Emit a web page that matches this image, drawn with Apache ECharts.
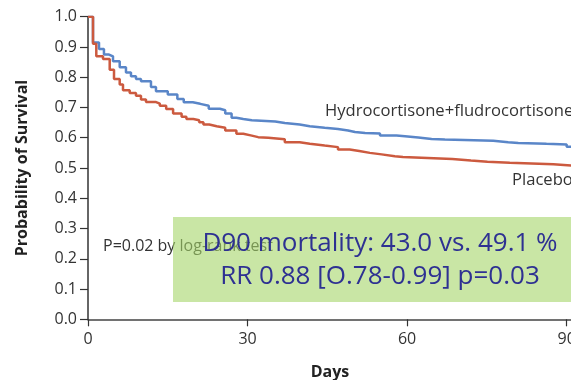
<!DOCTYPE html>
<html>
<head>
<meta charset="utf-8">
<script src="https://cdn.jsdelivr.net/npm/echarts@6/dist/echarts.min.js"></script>
<style>html,body{margin:0;padding:0;background:#fff;}#c{width:571px;height:380px;}</style>
</head>
<body>
<div id="c"></div>
<script>
// Kaplan-Meier steps: [day, survival]
const hydroDays = [0, 0.94, 2.07, 3.0, 3.95, 4.7, 5.96, 7.14, 8.08, 9.02, 9.96, 11.84, 12.78, 15.0, 16.8, 18.0, 19.7, 21.1, 22.7, 24.8, 25.8, 27.0, 27.9, 29.2, 30.8, 35.2, 37.0, 39.8, 41.7, 44.5, 47.0, 48.9, 50.2, 52.1, 54.9, 58.0, 59.6, 62.1, 64.6, 67.1, 76.2, 79.0, 80.9, 86.2, 90.0, 91];
const hydroSurv = [1.0, 0.915, 0.893, 0.875, 0.869, 0.853, 0.833, 0.816, 0.803, 0.794, 0.787, 0.768, 0.754, 0.743, 0.728, 0.717, 0.712, 0.706, 0.696, 0.691, 0.680, 0.666, 0.662, 0.658, 0.654, 0.649, 0.644, 0.638, 0.633, 0.629, 0.624, 0.619, 0.616, 0.614, 0.607, 0.605, 0.601, 0.596, 0.594, 0.590, 0.585, 0.583, 0.580, 0.578, 0.570, 0.570];
const placeboDays = [0, 0.94, 1.56, 2.82, 4.08, 4.89, 5.96, 6.58, 7.84, 9.02, 9.96, 10.9, 12.8, 13.5, 14.7, 16.0, 17.6, 18.5, 19.8, 20.9, 21.7, 22.8, 24.2, 25.8, 27.9, 29.2, 30.8, 32.0, 33.9, 37.0, 39.8, 41.7, 44.5, 47.0, 49.2, 51.0, 53.0, 55.2, 57.7, 59.2, 68.5, 72.0, 75.1, 79.3, 87.5, 91];
const placeboSurv = [1.0, 0.911, 0.869, 0.860, 0.825, 0.794, 0.776, 0.757, 0.748, 0.739, 0.726, 0.718, 0.713, 0.706, 0.695, 0.680, 0.669, 0.662, 0.658, 0.651, 0.644, 0.638, 0.633, 0.624, 0.613, 0.607, 0.602, 0.600, 0.595, 0.585, 0.580, 0.574, 0.569, 0.561, 0.556, 0.550, 0.545, 0.539, 0.536, 0.530, 0.525, 0.521, 0.517, 0.512, 0.508, 0.508];
const xTicks = [0, 30, 60, 90];
const seriesNames = ['Hydrocortisone+fludrocortisone', 'Placebo'];
const pText = 'P=0.02 by log-rank test';
const boxLines = ['D90 mortality: 43.0 vs. 49.1 %', 'RR 0.88 [O.78-0.99] p=0.03'];

const FONT = '"Open Sans", "Noto Sans", sans-serif';
const zip = (a, b) => a.map((d, i) => [d, b[i]]);

const chart = echarts.init(document.getElementById('c'), null, {renderer: 'canvas'});
chart.setOption({
  animation: false,
  backgroundColor: '#ffffff',
  grid: {left: 88, top: 16.7, width: 484, bottom: 60.7, containLabel: false, outerBoundsMode: 'none'},
  xAxis: {
    type: 'value', min: 0, max: 91,
    name: 'Days', nameLocation: 'middle', nameGap: 45,
    nameTextStyle: {fontFamily: FONT, fontSize: 16, fontWeight: 'bold', color: '#222'},
    axisLine: {lineStyle: {color: '#444', width: 1.5}},
    axisTick: {show: true, length: 7, lineStyle: {color: '#333', width: 1.2}, customValues: xTicks},
    axisLabel: {fontFamily: FONT, fontSize: 16, color: '#333', margin: 12, customValues: xTicks},
    splitLine: {show: false}
  },
  yAxis: {
    type: 'value', min: 0, max: 1, interval: 0.1,
    name: 'Probability of Survival', nameLocation: 'middle', nameGap: 58,
    nameTextStyle: {fontFamily: FONT, fontSize: 16, fontWeight: 'bold', color: '#222'},
    axisLine: {show: true, lineStyle: {color: '#333', width: 1.5}},
    axisTick: {show: true, length: 8, lineStyle: {color: '#333', width: 1.2}},
    axisLabel: {fontFamily: FONT, fontSize: 16, color: '#333', margin: 11, formatter: v => v.toFixed(1)},
    splitLine: {show: false}
  },
  series: [
    {name: seriesNames[0], type: 'line', step: 'end', symbol: 'none', clip: true,
     data: zip(hydroDays, hydroSurv), lineStyle: {color: '#5a86c8', width: 2.5}, z: 3},
    {name: seriesNames[1], type: 'line', step: 'end', symbol: 'none', clip: true,
     data: zip(placeboDays, placeboSurv), lineStyle: {color: '#cc5a3f', width: 2.5}, z: 3}
  ],
  graphic: [
    {type: 'text', left: 325, top: 103, z: 10,
     style: {text: seriesNames[0], font: '16.6px ' + FONT, fill: '#333'}},
    {type: 'text', left: 512, top: 172, z: 10,
     style: {text: seriesNames[1], font: '16.6px ' + FONT, fill: '#333'}},
    {type: 'text', left: 103, top: 238, z: 10,
     style: {text: pText, font: '16px ' + FONT, fill: '#333'}},
    {type: 'rect', shape: {x: 173, y: 217, width: 410, height: 85}, z: 20,
     style: {fill: 'rgba(165,213,105,0.6)'}},
    {type: 'text', x: 380, y: 244, z: 30,
     style: {text: boxLines[0], font: '26px ' + FONT, fill: '#2e3192', textAlign: 'center', textVerticalAlign: 'middle'}},
    {type: 'text', x: 380, y: 277, z: 30,
     style: {text: boxLines[1], font: '26px ' + FONT, fill: '#2e3192', textAlign: 'center', textVerticalAlign: 'middle'}}
  ]
});
</script>
</body>
</html>
